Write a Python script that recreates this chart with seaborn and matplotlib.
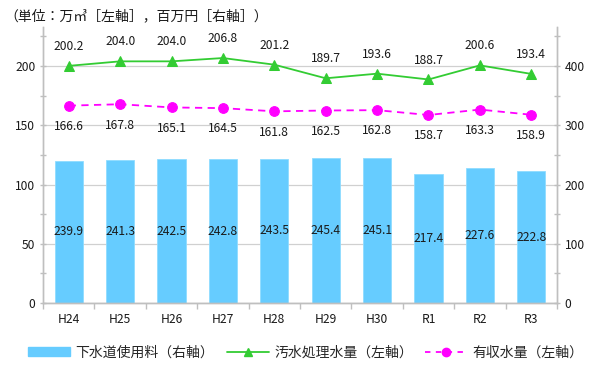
import matplotlib
matplotlib.use("Agg")
import matplotlib.pyplot as plt
import seaborn as sns
import numpy as np
import pandas as pd
from matplotlib.patches import Patch
from matplotlib.lines import Line2D
from matplotlib.ticker import MultipleLocator, FixedLocator

categories = ["H24", "H25", "H26", "H27", "H28", "H29", "H30", "R1", "R2", "R3"]
fee = [239.9, 241.3, 242.5, 242.8, 243.5, 245.4, 245.1, 217.4, 227.6, 222.8]
treated = [200.2, 204.0, 204.0, 206.8, 201.2, 189.7, 193.6, 188.7, 200.6, 193.4]
billed = [166.6, 167.8, 165.1, 164.5, 161.8, 162.5, 162.8, 158.7, 163.3, 158.9]

sns.set_theme(style="white")
plt.rcParams['font.family'] = ['Noto Sans CJK JP', 'DejaVu Sans']

BAR_C = "#66CCFF"
GREEN = "#33CC33"
MAG = "#FF00FF"
AXC = "#BFBFBF"
TXT = "#1a1a1a"

fig = plt.figure(figsize=(6, 3.75), dpi=100)
ax2 = fig.add_axes([0.0717, 0.192, 0.8566, 0.736])  # right axis (bars)
ax = ax2.twinx()
ax2.yaxis.tick_right()
ax.yaxis.tick_left()

df = pd.DataFrame({"cat": categories, "fee": fee})
sns.barplot(data=df, x="cat", y="fee", ax=ax2, color=BAR_C, width=0.55,
            saturation=1, edgecolor="#8fdcff", linewidth=0.6, zorder=2)
ax2.set_ylim(0, 466)
ax2.set_xlim(-0.5, 9.5)
ax2.yaxis.set_major_locator(MultipleLocator(100))
ax2.yaxis.set_minor_locator(MultipleLocator(50))
ax2.grid(axis="y", which="major", color="#D0D0D0", linewidth=0.9, zorder=0)
ax2.set_axisbelow(True)
for i, v in enumerate(fee):
    ax2.text(i, v / 2, f"{v:.1f}", ha="center", va="center", fontsize=8.7, color=TXT, zorder=5)

xpos = np.arange(len(categories))
sns.lineplot(x=xpos, y=treated, ax=ax, color=GREEN, marker="^", markersize=7,
             linewidth=1.3, markeredgecolor=GREEN, zorder=4)
sns.lineplot(x=xpos, y=billed, ax=ax, color=MAG, marker="o", markersize=7,
             linewidth=1.3, linestyle=(0, (4, 3)), markeredgecolor=MAG, zorder=4)
for i, v in enumerate(treated):
    ax.annotate(f"{v:.1f}", (i, v), xytext=(0, 14), textcoords="offset points",
                ha="center", va="center", fontsize=8.7, color=TXT)
for i, v in enumerate(billed):
    ax.annotate(f"{v:.1f}", (i, v), xytext=(0, -15), textcoords="offset points",
                ha="center", va="center", fontsize=8.7, color=TXT)
ax.set_ylim(0, 233)
ax.yaxis.set_major_locator(MultipleLocator(50))
ax.yaxis.set_minor_locator(MultipleLocator(25))

ax.set_zorder(ax2.get_zorder() + 1)
ax.patch.set_visible(False)

for a in (ax, ax2):
    a.set_xlabel("")
    a.set_ylabel("")
    a.spines["top"].set_visible(False)
    for s in ("left", "right", "bottom"):
        a.spines[s].set_color(AXC)
        a.spines[s].set_linewidth(1.0)
    a.tick_params(axis="y", which="major", length=4, color=AXC, direction="inout",
                  labelsize=8.7, labelcolor=TXT, width=1.0)
    a.tick_params(axis="y", which="minor", length=4, color=AXC, direction="inout", width=1.0)

ax2.set_xticks(xpos)
ax2.set_xticklabels(categories)
ax2.xaxis.set_minor_locator(FixedLocator(np.arange(-0.5, 10, 1)))
ax2.tick_params(axis="x", which="major", length=0, labelsize=8.7, labelcolor=TXT, pad=7)
ax2.tick_params(axis="x", which="minor", length=4, color=AXC, direction="out", width=1.0, bottom=True)
ax.tick_params(axis="x", which="both", bottom=False, labelbottom=False)

fig.text(0.008, 0.958, "（単位：万㎥［左軸］，百万円［右軸］）", fontsize=10, color=TXT,
         ha="left", va="center")

handles = [
    Patch(facecolor=BAR_C, edgecolor=BAR_C),
    Line2D([], [], color=GREEN, marker="^", markersize=6, linewidth=1.3),
    Line2D([], [], color=MAG, marker="o", markersize=6, linewidth=1.3, linestyle=(0, (3, 3))),
]
labels = ["下水道使用料（右軸）", "汚水処理水量（左軸）", "有収水量（左軸）"]
fig.legend(handles, labels, loc="center", bbox_to_anchor=(0.51, 0.06), ncol=3,
           frameon=False, fontsize=10, handlelength=3.0, handleheight=0.6,
           columnspacing=0.9, handletextpad=0.4)

fig.savefig("out.png", dpi=100)
